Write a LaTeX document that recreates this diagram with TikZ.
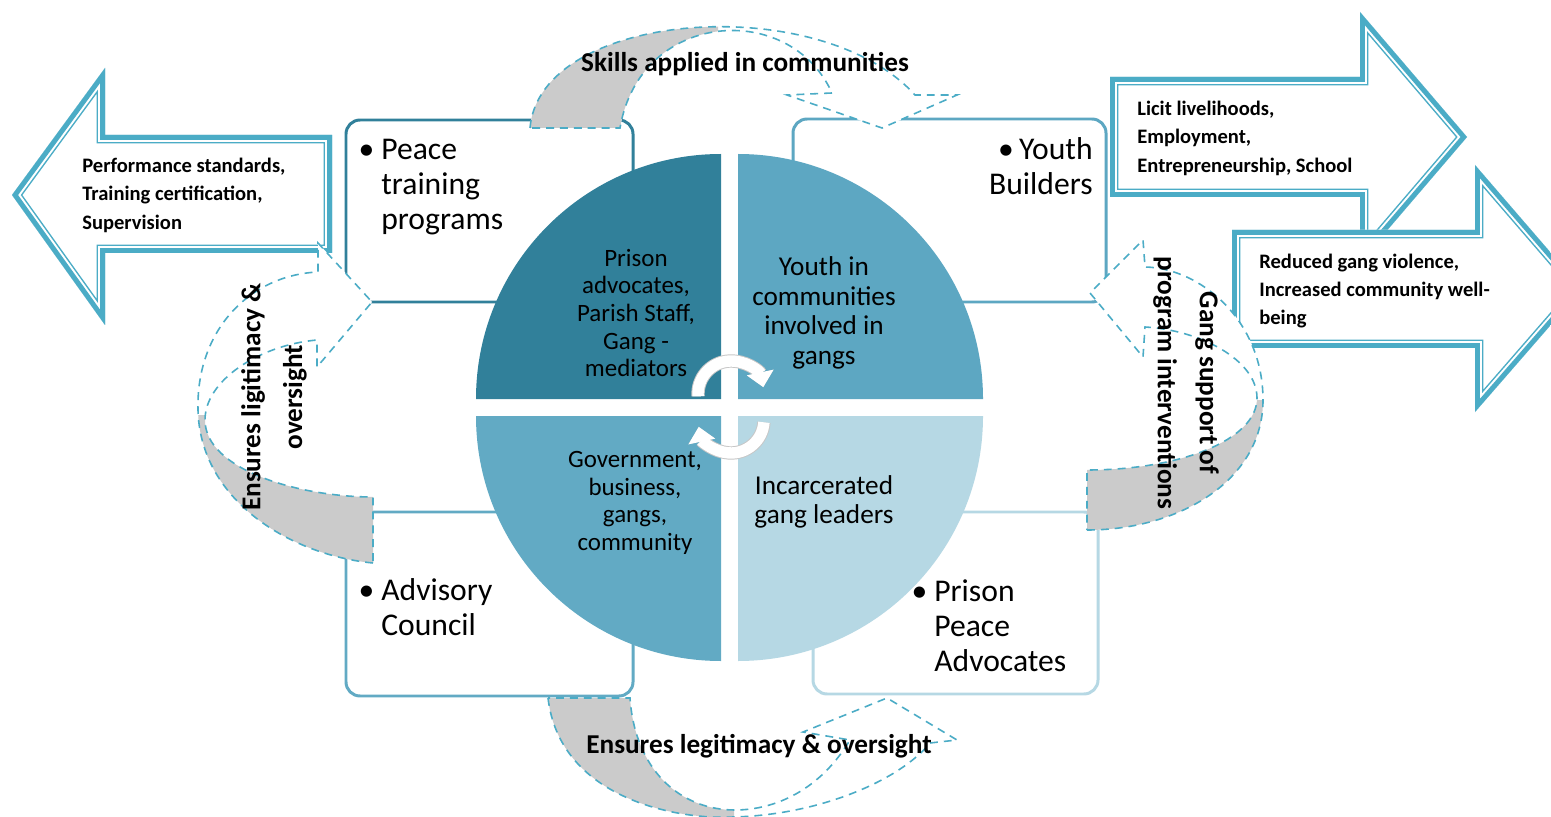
\documentclass[tikz,border=0pt]{standalone}
\usepackage{fontspec}
\setmainfont{Carlito}
\usetikzlibrary{arrows.meta}

\definecolor{aqua}{HTML}{4BACC6}
\definecolor{qdark}{HTML}{31809A}
\definecolor{qmid}{HTML}{5DA7C2}
\definecolor{qmidb}{HTML}{62AAC4}
\definecolor{qlight}{HTML}{B6D8E4}
\definecolor{band}{HTML}{CBCBCB}

% outlined block arrow: thick outer line, thin inner line
\newcommand\dblarrow[1]{%
  \fill[white] #1;
  \begin{scope}
    \clip #1;
    \draw[aqua,line width=9.6pt,line join=miter] #1;
    \draw[white,line width=7.9pt,line join=miter] #1;
    \draw[aqua,line width=5.6pt,line join=miter] #1;
  \end{scope}}

% twisted loop arrow: white body, grey back half, dashed rim
\newcommand\looparrow[2]{%
  \fill[white] #1;
  \begin{scope}
    \clip #2;
    \fill[band] #1;
  \end{scope}
  \draw[loopline] #1;}

\begin{document}
\begin{tikzpicture}[x=0.02cm,y=-0.02cm,>=Latex]
  \tikzstyle{box}=[line width=1.7pt,rounded corners=8pt,fill=white]
  \tikzstyle{boxtext}=[inner sep=0,align=left,font=\fontsize{18}{20}\selectfont]
  \tikzstyle{quadtext}=[inner sep=0,align=center,font=\fontsize{14.2}{15.7}\selectfont]
  \tikzstyle{quadbig}=[inner sep=0,align=center,font=\fontsize{15.5}{16.9}\selectfont]
  \tikzstyle{arrowtext}=[inner sep=0,align=left,anchor=west,font=\bfseries\fontsize{11.7}{16.2}\selectfont]
  \tikzstyle{looptext}=[inner sep=0,align=center,font=\bfseries\fontsize{15.5}{23.8}\selectfont]
  \tikzstyle{loopline}=[draw=aqua,line width=0.9pt,dash pattern=on 4.5pt off 3.4pt]
  \tikzstyle{turn}=[white,line width=6.5pt,-{Triangle[width=15pt,length=8.5pt]},
    preaction={draw=black!22,line width=7.6pt}]

  \clip (0,0) rectangle (1551,817);
  \fill[white] (0,0) rectangle (1551,817);

  % role boxes
  \draw[box,draw=qdark] (346,120) rectangle (633,302);
  \draw[box,draw=qmid] (793,119) rectangle (1106,302);
  \draw[box,draw=qmidb] (346,512) rectangle (633,696);
  \draw[box,draw=qlight] (813,512) rectangle (1098,694);

  % outcome arrows
  \dblarrow{(12,195) -- (105,68) -- (105,135) -- (332,135) -- (332,253) -- (105,253) -- (105,325) -- cycle}
  \dblarrow{(1110,77) -- (1360,77) -- (1360,12) -- (1467,137) -- (1360,262) -- (1360,197) -- (1110,197) -- cycle}
  \dblarrow{(1232,230) -- (1475,230) -- (1475,165) -- (1582,289) -- (1475,412) -- (1475,348) -- (1232,348) -- cycle}

  % four quarters of the centre disc
  \fill[qdark] (721,399) -- ++(-245,0) arc[start angle=180,end angle=270,radius=245] -- cycle;
  \fill[qmid] (738,399) -- ++(0,-245) arc[start angle=270,end angle=360,radius=245] -- cycle;
  \fill[qlight] (738,416) -- ++(245,0) arc[start angle=0,end angle=90,radius=245] -- cycle;
  \fill[qmidb] (721,416) -- ++(0,245) arc[start angle=90,end angle=180,radius=245] -- cycle;

  \draw[turn] (731,394) ++(176:33) arc[start angle=176,end angle=348,radius=33];
  \draw[turn] (731,420) ++(4:33) arc[start angle=4,end angle=168,radius=33];

  % loop arrows between the boxes
  \looparrow{(530,128) .. controls (540,10) and (820,-10) .. (915,95) -- (957,95) -- (882,128) -- (787,95) -- (832,93) .. controls (790,0) and (640,10) .. (620,128) -- cycle}{(0,0) rectangle (718,817)}
  \looparrow{(373,563) .. controls (290,555) and (200,500) .. (198,410) .. controls (196,330) and (250,275) .. (318,272) -- (318,243) -- (372,302) -- (317,367) -- (317,340) .. controls (260,345) and (205,380) .. (205,420) .. controls (205,470) and (300,497) .. (373,497) -- cycle}{(0,415) rectangle (1551,817)}
  \looparrow{(1087,530) .. controls (1180,530) and (1263,480) .. (1263,400) .. controls (1263,320) and (1200,268) .. (1145,267) -- (1143,240) -- (1090,293) -- (1143,357) -- (1145,327) .. controls (1200,330) and (1257,360) .. (1257,398) .. controls (1257,440) and (1180,470) .. (1087,470) -- cycle}{(0,400) rectangle (1551,817)}
  \looparrow{(548,698) .. controls (560,800) and (680,820) .. (733,817) .. controls (820,815) and (900,780) .. (930,743) -- (957,740) -- (887,698) -- (803,732) -- (850,740) .. controls (820,790) and (775,810) .. (735,810) .. controls (680,810) and (635,770) .. (630,698) -- cycle}{(0,0) rectangle (734,817)}

  % labels
  \node[boxtext,anchor=west] (peace) at (381,187) {\llap{\textbullet\hspace{4pt}}Peace\\training\\programs};
  \node[boxtext,anchor=east,align=right] (youth) at (1093,166) {\textbullet\hspace{3pt}Youth\\Builders};
  \node[boxtext,anchor=west] (council) at (381,607) {\llap{\textbullet\hspace{4pt}}Advisory\\Council};
  \node[boxtext,anchor=west] (advocates) at (934,626) {\llap{\textbullet\hspace{4pt}}Prison\\Peace\\Advocates};

  \node[quadtext] (mediators) at (636,313) {Prison\\advocates,\\Parish Staff,\\Gang -\\mediators};
  \node[quadbig] (gangs) at (824,313) {Youth in\\communities\\involved in\\gangs};
  \node[quadtext] (community) at (635,503) {Government,\\business,\\gangs,\\community};
  \node[quadbig] (leaders) at (824,502) {Incarcerated\\gang leaders};

  \node[arrowtext] (standards) at (82,195) {Performance standards,\\Training certification,\\Supervision};
  \node[arrowtext] (livelihoods) at (1137,138) {Licit livelihoods,\\Employment,\\Entrepreneurship, School};
  \node[arrowtext] (violence) at (1259,291) {Reduced gang violence,\\Increased community well-\\being};

  \node[looptext] (skills) at (745,64) {Skills applied in communities};
  \node[looptext,rotate=90] (oversightL) at (274,397) {Ensures ligitimacy \&\\oversight};
  \node[looptext,rotate=-90] (support) at (1186,383) {Gang support of\\program interventions};
  \node[looptext] (oversightB) at (759,746) {Ensures legitimacy \& oversight};
\end{tikzpicture}
\end{document}
